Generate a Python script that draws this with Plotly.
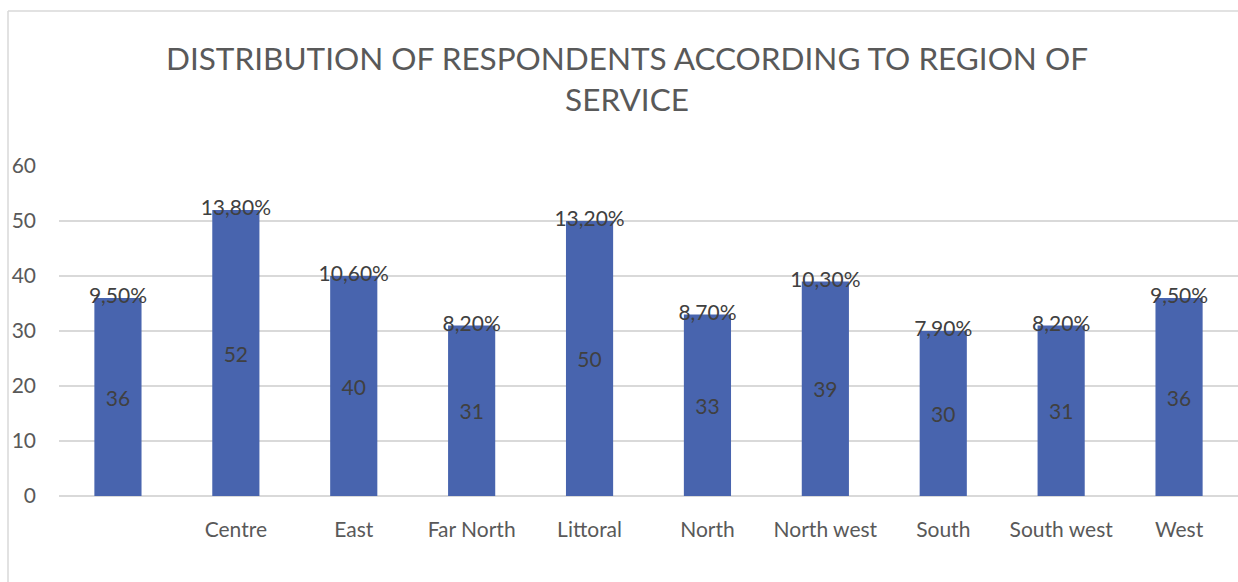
import plotly.graph_objects as go

# Respondents per region of service
regions = ["", "Centre", "East", "Far North", "Littoral", "North",
           "North west", "South", "South west", "West"]
counts = [36, 52, 40, 31, 50, 33, 39, 30, 31, 36]
shares = ["9,50%", "13,80%", "10,60%", "8,20%", "13,20%", "8,70%",
          "10,30%", "7,90%", "8,20%", "9,50%"]

W, H = 1238, 582
L, R, T, B = 59, 0, 166, 86
pw, ph = W - L - R, H - T - B

FONT = "Lato"
TXT = "#595959"
LBL = "#404040"
GRID = "#d9d9d9"
FS = 21

xs = list(range(len(regions)))

fig = go.Figure()
fig.add_trace(go.Bar(
    x=xs, y=counts,
    marker=dict(color="#4864ae", line=dict(width=0)),
    text=[str(c) for c in counts],
    textposition="inside", insidetextanchor="middle",
    textfont=dict(family=FONT, size=FS, color=LBL),
    hoverinfo="skip",
))
# Share labels centred on top of each bar
fig.add_trace(go.Scatter(
    x=xs, y=counts, mode="text", text=shares,
    textposition="middle center",
    textfont=dict(family=FONT, size=FS, color=LBL),
    hoverinfo="skip", cliponaxis=False,
))

def px_x(v):
    return (v - L) / pw

def px_y(v):
    return (H - B - v) / ph

# Chart frame (left and top edges)
frame = dict(color=GRID, width=1.5)
fig.add_shape(type="line", xref="paper", yref="paper", layer="above",
              x0=px_x(8), x1=px_x(8), y0=px_y(11), y1=px_y(H), line=frame)
fig.add_shape(type="line", xref="paper", yref="paper", layer="above",
              x0=px_x(8), x1=px_x(W + 5), y0=px_y(11), y1=px_y(11), line=frame)

# Two-line chart title
fig.add_annotation(
    text="DISTRIBUTION OF RESPONDENTS ACCORDING TO REGION OF<br>SERVICE",
    xref="paper", yref="paper", x=px_x(627), y=px_y(78),
    xanchor="center", yanchor="middle", showarrow=False, align="center",
    font=dict(family=FONT, size=31.5, color=TXT),
)

fig.update_layout(
    width=W, height=H,
    margin=dict(l=L, r=R, t=T, b=B),
    paper_bgcolor="white", plot_bgcolor="white",
    showlegend=False, bargap=0.6,
    xaxis=dict(
        tickvals=xs, ticktext=regions, range=[-0.5, len(regions) - 0.5],
        showgrid=False, zeroline=False, showline=False,
        tickfont=dict(family=FONT, size=FS, color=TXT),
        ticks="", ticklabelstandoff=19,
    ),
    yaxis=dict(
        range=[0, 60], dtick=10,
        showgrid=True, gridcolor=GRID, gridwidth=1.5,
        zeroline=True, zerolinecolor=GRID, zerolinewidth=1.5,
        showline=False, ticks="",
        tickfont=dict(family=FONT, size=FS, color=TXT),
        ticklabelstandoff=22,
    ),
)

fig.write_html("out.html")
